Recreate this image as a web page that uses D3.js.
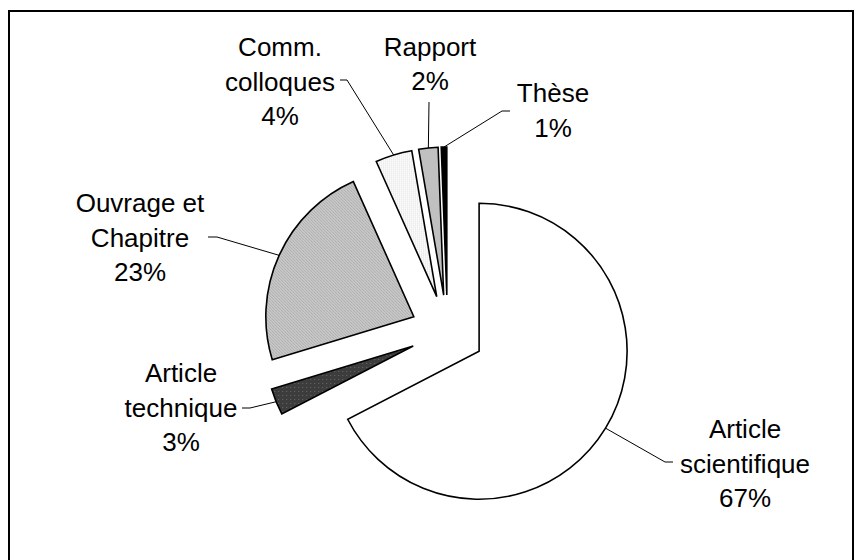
<!DOCTYPE html>
<html>
<head>
<meta charset="utf-8">
<script src="https://cdn.jsdelivr.net/npm/d3@7"></script>
<style>
  body { margin: 0; background: #fff; }
  svg { display: block; }
  text { font-family: "Liberation Sans", Arial, sans-serif; font-size: 26px; fill: #000; }
</style>
</head>
<body>
<svg id="chart" width="861" height="560" viewBox="0 0 861 560"></svg>
<script>
// data
const categories = ["Article scientifique", "Article technique", "Ouvrage et Chapitre", "Comm. colloques", "Rapport", "Thèse"];
const values = [67.4, 2.9, 23.0, 4.0, 2.1, 0.6];
const labelLines = [["Article", "scientifique"], ["Article", "technique"], ["Ouvrage et", "Chapitre"], ["Comm.", "colloques"], ["Rapport"], ["Thèse"]];
const fills = ["#ffffff", "url(#patDark)", "url(#patGrey)", "url(#patDots)", "#c0c0c0", "#000000"];

// layout (label centre x, first baseline, leader start, optional elbow)
const labelPos = [
    { x: 745, y: 438, start: [673, 462], elbow: [665, 462] },
    { x: 181, y: 382, start: [242, 408], elbow: [250, 408] },
    { x: 140, y: 212, start: [208, 237], elbow: [217, 237] },
    { x: 280, y: 56, start: [340, 80], elbow: [347, 80] },
    { x: 430, y: 55.5, start: [429, 102], elbow: null },
    { x: 553, y: 102, start: [510, 111], elbow: [502, 111] }
];

const svg = d3.select("#chart");
const cx = 447.5, cy = 332, radius = 148, explode = 37, lineH = 34.5;

// fill patterns
const defs = svg.append("defs");
const pg = defs.append("pattern").attr("id", "patGrey").attr("patternUnits", "userSpaceOnUse")
    .attr("width", 3).attr("height", 3);
pg.append("rect").attr("width", 3).attr("height", 3).attr("fill", "#cdcdcd");
pg.append("rect").attr("x", 0).attr("y", 0).attr("width", 1).attr("height", 1).attr("fill", "#a0a0a0");
pg.append("rect").attr("x", 1).attr("y", 1).attr("width", 1).attr("height", 1).attr("fill", "#a8a8a8");
pg.append("rect").attr("x", 2).attr("y", 2).attr("width", 1).attr("height", 1).attr("fill", "#a0a0a0");

const pd = defs.append("pattern").attr("id", "patDark").attr("patternUnits", "userSpaceOnUse")
    .attr("width", 4).attr("height", 4);
pd.append("rect").attr("width", 4).attr("height", 4).attr("fill", "#3c3c3c");
pd.append("rect").attr("x", 1).attr("y", 1).attr("width", 1).attr("height", 1).attr("fill", "#6a6a6a");

const pt = defs.append("pattern").attr("id", "patDots").attr("patternUnits", "userSpaceOnUse")
    .attr("width", 2).attr("height", 2);
pt.append("rect").attr("width", 2).attr("height", 2).attr("fill", "#ffffff");
pt.append("rect").attr("x", 0).attr("y", 0).attr("width", 1).attr("height", 1).attr("fill", "#d4d4d4");

// frame (bottom edge lies outside the picture)
svg.append("rect")
    .attr("x", 9).attr("y", 11).attr("width", 844).attr("height", 580)
    .attr("fill", "none").attr("stroke", "#000").attr("stroke-width", 2);

const total = d3.sum(values);
const pie = d3.pie().sort(null).startAngle(0).value(d => d);
const arcs = pie(values);
const arc = d3.arc().innerRadius(0).outerRadius(radius);

const offset = d => {
    const mid = (d.startAngle + d.endAngle) / 2;
    return [cx + Math.sin(mid) * explode, cy - Math.cos(mid) * explode];
};

// slices
svg.append("g").selectAll("path")
    .data(arcs)
    .enter()
    .append("path")
    .attr("transform", d => `translate(${offset(d)[0]},${offset(d)[1]})`)
    .attr("d", arc)
    .attr("fill", (d, i) => fills[i])
    .attr("stroke", "#000")
    .attr("stroke-width", 1.6)
    .attr("stroke-linejoin", "miter");

// leader lines
svg.append("g").selectAll("path")
    .data(arcs)
    .enter()
    .append("path")
    .attr("d", (d, i) => {
        const mid = (d.startAngle + d.endAngle) / 2;
        const o = offset(d);
        const end = [o[0] + Math.sin(mid) * radius, o[1] - Math.cos(mid) * radius];
        const p = labelPos[i];
        const pts = [p.start];
        if (p.elbow) pts.push(p.elbow);
        pts.push(end);
        return d3.line()(pts);
    })
    .attr("fill", "none")
    .attr("stroke", "#000")
    .attr("stroke-width", 1);

// labels
const labels = svg.append("g").selectAll("text")
    .data(arcs)
    .enter()
    .append("text")
    .attr("text-anchor", "middle")
    .attr("x", (d, i) => labelPos[i].x)
    .attr("y", (d, i) => labelPos[i].y);

labels.each(function (d, i) {
    const t = d3.select(this);
    const lines = labelLines[i].concat([Math.round(d.data / total * 100) + "%"]);
    lines.forEach((s, k) => {
        t.append("tspan")
            .attr("x", labelPos[i].x)
            .attr("y", labelPos[i].y + k * lineH)
            .text(s);
    });
});
</script>
</body>
</html>
